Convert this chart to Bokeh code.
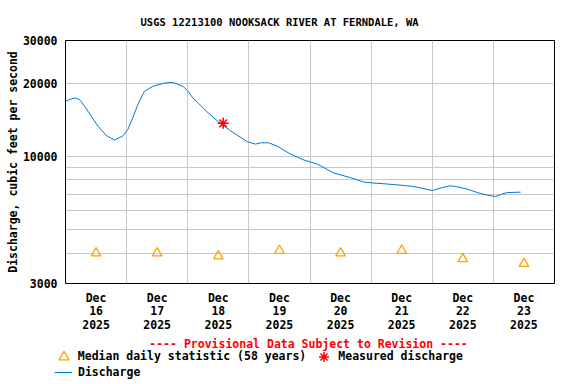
from bokeh.plotting import figure
from bokeh.layouts import column
from bokeh.models import FixedTicker, Range1d, Label, Legend, LegendItem
from bokeh.embed import file_html
from bokeh.resources import INLINE

# ---- data ----
title_text = "USGS 12213100 NOOKSACK RIVER AT FERNDALE, WA"
y_label = "Discharge, cubic feet per second"
provisional = "---- Provisional Data Subject to Revision ----"

# discharge: hours since 2025-12-16 00:00, cfs
q_hours = [0, 2.2, 3.9, 5.5, 7.5, 10.1, 12.7, 16.0, 19.2, 22.5, 24.5, 26.4, 28.4, 31.0,
           34.3, 38.9, 42.1, 46.1, 47.8, 50.0, 51.7, 55.6, 59.6, 64.8, 71.4, 74.6, 76.6,
           79.8, 83.1, 88.3, 93.6, 98.8, 105.3, 111.9, 117.0, 120.5, 125.6, 131.5, 136.8,
           141.4, 144.0, 148.5, 151.1, 153.1, 157.7, 161.7, 165.6, 168.9, 170.8, 173.4,
           178.7]
q_cfs = [16870, 17230, 17400, 17140, 16090, 14650, 13330, 12200, 11680, 12130, 12920,
         14410, 16350, 18540, 19430, 20050, 20180, 19430, 18710, 17400, 16750, 15250,
         14010, 12750, 11490, 11240, 11380, 11380, 11030, 10230, 9670, 9310, 8550, 8180,
         7850, 7780, 7710, 7620, 7520, 7340, 7240, 7470, 7570, 7520, 7340, 7100, 6930,
         6840, 6970, 7100, 7130]

# median daily statistic at noon of each day
med_hours = [12, 36, 60, 84, 108, 132, 156, 180]
med_cfs = [4000, 4000, 3890, 4100, 4000, 4100, 3790, 3620]

# measured discharge
meas_hours = [61.9]
meas_cfs = [13680]

tick_hours = [12, 36, 60, 84, 108, 132, 156, 180]
tick_labels = ["Dec\n16\n2025", "Dec\n17\n2025", "Dec\n18\n2025", "Dec\n19\n2025",
               "Dec\n20\n2025", "Dec\n21\n2025", "Dec\n22\n2025", "Dec\n23\n2025"]
grid_hours = [24, 48, 72, 96, 120, 144, 168]
y_ticks = [3000, 10000, 20000, 30000]
y_grid = [4000, 5000, 6000, 7000, 8000, 9000, 10000, 20000]

FONT = "DejaVu Sans Mono"
BLUE = "#0078d2"
ORANGE = "#ffa000"
RED = "#ff0000"

p = figure(width=576, height=334, x_range=Range1d(0, 192), y_range=Range1d(3000, 30000),
           y_axis_type="log", output_backend="svg", toolbar_location=None,
           min_border_left=65, min_border_right=22, min_border_top=40, min_border_bottom=50)
p.frame_align = False
p.outline_line_color = "black"
p.outline_line_width = 1

p.title.text = title_text
p.title.align = "left"
p.title.offset = 75
p.title.standoff = 26
p.title.text_font = FONT
p.title.text_font_style = "bold"
p.title.text_font_size = "10.5px"
p.title.text_color = "black"

xa = p.xaxis[0]
xa.ticker = FixedTicker(ticks=tick_hours)
xa.major_label_overrides = {h: l for h, l in zip(tick_hours, tick_labels)}
ya = p.yaxis[0]
ya.ticker = FixedTicker(ticks=y_ticks)
ya.major_label_overrides = {v: str(v) for v in y_ticks}
ya.axis_label = y_label
for ax in (xa, ya):
    ax.axis_line_color = None
    ax.major_tick_line_color = None
    ax.minor_tick_line_color = None
    ax.major_tick_in = 0
    ax.major_tick_out = 0
    ax.major_label_text_font = FONT
    ax.major_label_text_font_style = "bold"
    ax.major_label_text_font_size = "11.5px"
    ax.major_label_text_color = "black"
xa.major_label_standoff = 7
xa.major_label_text_line_height = 0.97
ya.major_label_standoff = 8
ya.axis_label_text_font = FONT
ya.axis_label_text_font_style = "bold"
ya.axis_label_text_font_size = "11.5px"
ya.axis_label_text_color = "black"
ya.axis_label_standoff = 0

p.xgrid.ticker = FixedTicker(ticks=grid_hours)
p.ygrid.ticker = FixedTicker(ticks=y_grid)
for g in (p.xgrid[0], p.ygrid[0]):
    g.grid_line_color = "#c8c8c8"
    g.grid_line_width = 1

p.line(q_hours, q_cfs, line_color=BLUE, line_width=1)
p.scatter(med_hours, med_cfs, marker="triangle", size=9.5, fill_color=None,
          line_color=ORANGE, line_width=1.3)
p.scatter(meas_hours, meas_cfs, marker="asterisk", size=11, line_color=RED, line_width=1.5)

# ---- legend strip below the plot (its own frame covers the whole strip) ----
lf = figure(width=576, height=50, x_range=Range1d(0, 576), y_range=Range1d(0, 50),
            output_backend="svg", toolbar_location=None,
            x_axis_location=None, y_axis_location=None,
            min_border_left=0, min_border_right=0, min_border_top=0, min_border_bottom=0)
lf.frame_align = False
lf.grid.visible = False
lf.outline_line_color = None

# legend swatches reuse the series (their values lie far outside this strip's range)
k_tri = lf.scatter(med_hours, med_cfs, marker="triangle", size=10, fill_color=None,
                   line_color=ORANGE, line_width=1.3)
k_star = lf.scatter(meas_hours, meas_cfs, marker="asterisk", size=10, line_color=RED,
                    line_width=1.5)
k_line = lf.line(q_hours, q_cfs, line_color=BLUE, line_width=1)

lf.add_layout(Label(x=308, y=41, x_units="screen", y_units="screen", text=provisional,
                    text_align="center", text_baseline="middle", text_font=FONT,
                    text_font_style="bold", text_font_size="11.5px", text_color=RED))

common = dict(orientation="horizontal", padding=0, margin=0, label_height=14,
              border_line_color=None, background_fill_alpha=0,
              label_text_font=FONT, label_text_font_style="bold",
              label_text_font_size="11.5px", label_text_color="black")
lg1 = Legend(items=[LegendItem(label="Median daily statistic (58 years)", renderers=[k_tri]),
                    LegendItem(label="Measured discharge", renderers=[k_star])],
             location=(50.8, 15.5), glyph_width=25, glyph_height=25,
             label_standoff=2, spacing=5, **common)
lg2 = Legend(items=[LegendItem(label="Discharge", renderers=[k_line])],
             location=(54, 5), glyph_width=18, glyph_height=14,
             label_standoff=6, spacing=5, **common)
lf.add_layout(lg1)
lf.add_layout(lg2)

layout = column(p, lf, spacing=0)
open("out.html", "w").write(file_html(layout, INLINE))
